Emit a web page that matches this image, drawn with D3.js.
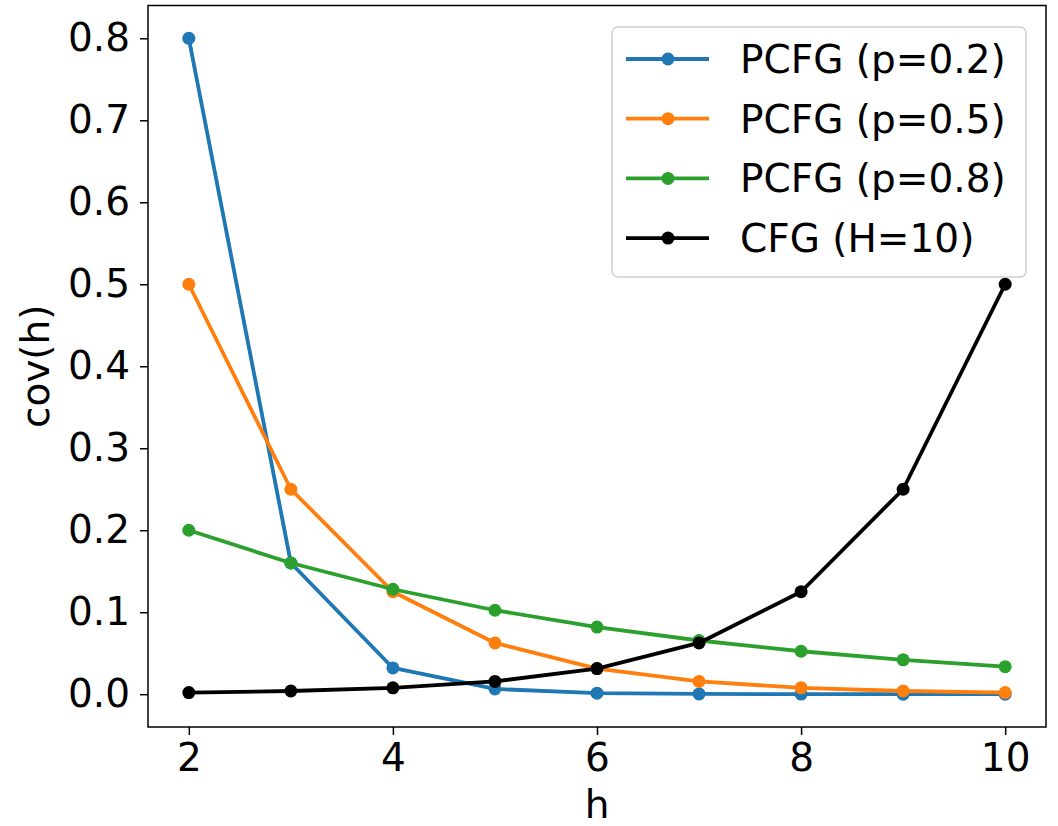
<!DOCTYPE html>
<html>
<head>
<meta charset="utf-8">
<script src="https://cdn.jsdelivr.net/npm/d3@7"></script>
<style>
  body { margin: 0; background: #fff; }
  text { font-family: 'DejaVu Sans', sans-serif; fill: #000; }
</style>
</head>
<body>
<div id="mount"></div>
<script>
'use strict';

// values
const hValues = [2, 3, 4, 5, 6, 7, 8, 9, 10];
const pcfg02 = [0.8, 0.16, 0.032, 0.0064, 0.0013, 0.0003, 0.0001, 0.0000, 0.0000];
const pcfg05 = [0.5, 0.25, 0.125, 0.0625, 0.0313, 0.0156, 0.0078, 0.0039, 0.0020];
const pcfg08 = [0.2, 0.16, 0.128, 0.1024, 0.0819, 0.0655, 0.0524, 0.0419, 0.0336];
const cfg10  = [0.0020, 0.0039, 0.0078, 0.0156, 0.0313, 0.0625, 0.125, 0.25, 0.5];
const seriesNames = ['PCFG (p=0.2)', 'PCFG (p=0.5)', 'PCFG (p=0.8)', 'CFG (H=10)'];
const seriesColors = ['#1f77b4', '#ff7f0e', '#2ca02c', '#000000'];
const xTicks = [2, 4, 6, 8, 10];
const yTicks = [0, 0.1, 0.2, 0.3, 0.4, 0.5, 0.6, 0.7, 0.8];

const W = 1058, H = 826;
const plot = { left: 148, top: 5.5, right: 1046, bottom: 727 };
const fontSize = '39px';

const svg = d3.select('#mount').append('svg')
    .attr('width', W)
    .attr('height', H);

const x = d3.scaleLinear().domain([1.6, 10.4]).range([plot.left, plot.right]);
const y = d3.scaleLinear().domain([-0.04, 0.84]).range([plot.bottom, plot.top]);

const series = [pcfg02, pcfg05, pcfg08, cfg10].map((vals, i) => ({
  name: seriesNames[i],
  color: seriesColors[i],
  points: vals.map((v, j) => ({ h: hValues[j], v }))
}));

// axes
const xAxis = svg.append('g')
    .attr('transform', `translate(0, ${plot.bottom})`)
    .call(d3.axisBottom(x).tickValues(xTicks).tickSize(8).tickPadding(8).tickFormat(d3.format('d')));

const yAxis = svg.append('g')
    .attr('transform', `translate(${plot.left}, 0)`)
    .call(d3.axisLeft(y).tickValues(yTicks).tickSize(8).tickPadding(10).tickFormat(d3.format('.1f')));

[xAxis, yAxis].forEach(a => {
  a.select('.domain').remove();
  a.selectAll('.tick line').attr('stroke', '#000').attr('stroke-width', 1.5);
  a.selectAll('.tick text')
      .style('font-family', "'DejaVu Sans', sans-serif")
      .style('font-size', fontSize)
      .attr('fill', '#000');
});

// lines and markers
const line = d3.line().x(d => x(d.h)).y(d => y(d.v));

const groups = svg.append('g').selectAll('g')
    .data(series)
  .enter().append('g');

groups.append('path')
    .attr('d', d => line(d.points))
    .attr('fill', 'none')
    .attr('stroke', d => d.color)
    .attr('stroke-width', 3.8)
    .attr('stroke-linejoin', 'round');

groups.selectAll('circle')
    .data(d => d.points.map(p => ({ ...p, color: d.color })))
  .enter().append('circle')
    .attr('cx', d => x(d.h))
    .attr('cy', d => y(d.v))
    .attr('r', 6.5)
    .attr('fill', d => d.color);

// frame
svg.append('rect')
    .attr('x', plot.left)
    .attr('y', plot.top)
    .attr('width', plot.right - plot.left)
    .attr('height', plot.bottom - plot.top)
    .attr('fill', 'none')
    .attr('stroke', '#000')
    .attr('stroke-width', 1.5);

// legend
const legend = svg.append('g');
legend.append('rect')
    .attr('x', 612)
    .attr('y', 27)
    .attr('width', 414)
    .attr('height', 250)
    .attr('rx', 6)
    .attr('fill', 'rgba(255,255,255,0.8)')
    .attr('stroke', '#d0d0d0')
    .attr('stroke-width', 1.5);

const rows = legend.selectAll('g.row')
    .data(series)
  .enter().append('g')
    .attr('class', 'row')
    .attr('transform', (d, i) => `translate(0, ${59 + i * 59.7})`);

rows.append('line')
    .attr('x1', 626).attr('x2', 709)
    .attr('stroke', d => d.color)
    .attr('stroke-width', 3.8);

rows.append('circle')
    .attr('cx', 668)
    .attr('r', 6.5)
    .attr('fill', d => d.color);

rows.append('text')
    .attr('x', 740)
    .attr('y', 14)
    .style('font-size', fontSize)
    .text(d => d.name);

// axis labels
svg.append('text')
    .attr('x', (plot.left + plot.right) / 2)
    .attr('y', 818)
    .attr('text-anchor', 'middle')
    .style('font-size', fontSize)
    .text('h');

svg.append('text')
    .attr('transform', `translate(49, ${(plot.top + plot.bottom) / 2}) rotate(-90)`)
    .attr('text-anchor', 'middle')
    .style('font-size', fontSize)
    .text('cov(h)');
</script>
</body>
</html>
